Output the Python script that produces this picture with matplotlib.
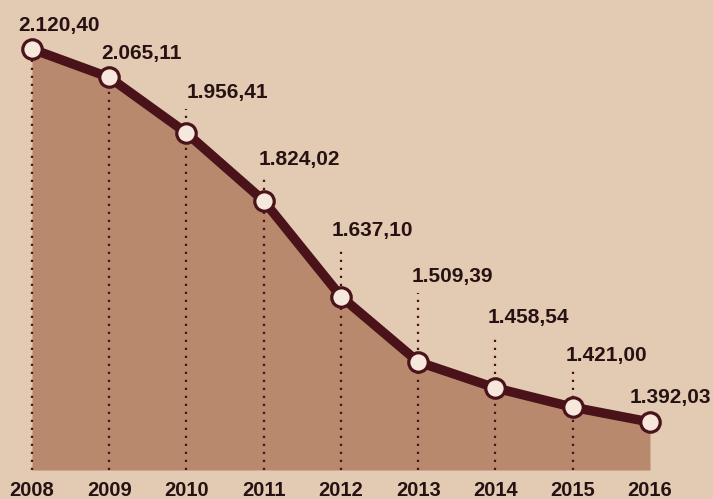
import matplotlib.pyplot as plt
import matplotlib.transforms as mtransforms

# Data
years = ["2008", "2009", "2010", "2011", "2012", "2013", "2014", "2015", "2016"]
values = [2120.40, 2065.11, 1956.41, 1824.02, 1637.10, 1509.39, 1458.54, 1421.00, 1392.03]
value_labels = ["2.120,40", "2.065,11", "1.956,41", "1.824,02", "1.637,10",
                "1.509,39", "1.458,54", "1.421,00", "1.392,03"]

# Style
BG = "#e3cab2"
FILL = "#b8896c"
LINE = "#4a1219"
TEXT = "#261212"
FONT = ["Liberation Sans", "DejaVu Sans"]

fig = plt.figure(figsize=(7.13, 4.99), dpi=100, facecolor=BG)
ax = fig.add_axes([0, 0, 1, 1])
ax.set_facecolor(BG)

x = list(range(len(years)))
ax.set_xlim(-0.414, 8.816)
ax.set_ylim(1241.7, 2216.1)
baseline = 1298.3

ax.fill_between(x, values, baseline, color=FILL, lw=0, zorder=1)

# label placement in pixels relative to the marker: left edge shift, lift of label centre
dx_px = [-14, -8, 0, -5, -9, -7, -8, -7, -20]
dy_px = [24, 24, 40, 41, 66, 85, 70, 52, 25]

to_px = ax.transData
for i, (v, lab) in enumerate(zip(values, value_labels)):
    ax.annotate(lab, (i, v), xytext=(dx_px[i], dy_px[i]), textcoords="offset pixels",
                ha="left", va="center", fontsize=15, fontweight="bold",
                color=TEXT, family=FONT, zorder=5)
    if i == len(values) - 1:
        continue
    if i < 2:
        top = v
    else:
        px, py = to_px.transform((i, v))
        top = to_px.inverted().transform((px, py + dy_px[i] - 16))[1]
    ax.plot([i, i], [baseline, top], ls=(0, (1, 2.6)), color=LINE, lw=1.6, zorder=2)

ax.plot(x, values, color=LINE, lw=6.8, solid_capstyle="round", zorder=3)
ax.plot(x, values, "o", ms=14, mfc="#f6e8dc", mec=LINE, mew=2.3, zorder=4)

trans = mtransforms.blended_transform_factory(ax.transData, ax.transAxes)
for i, yr in enumerate(years):
    ax.text(i, 1 - 490 / 499, yr, transform=trans, ha="center", va="center",
            fontsize=14.5, fontweight="bold", color=TEXT, family=FONT)

ax.axis("off")
fig.savefig("out.png", dpi=100, facecolor=BG)
